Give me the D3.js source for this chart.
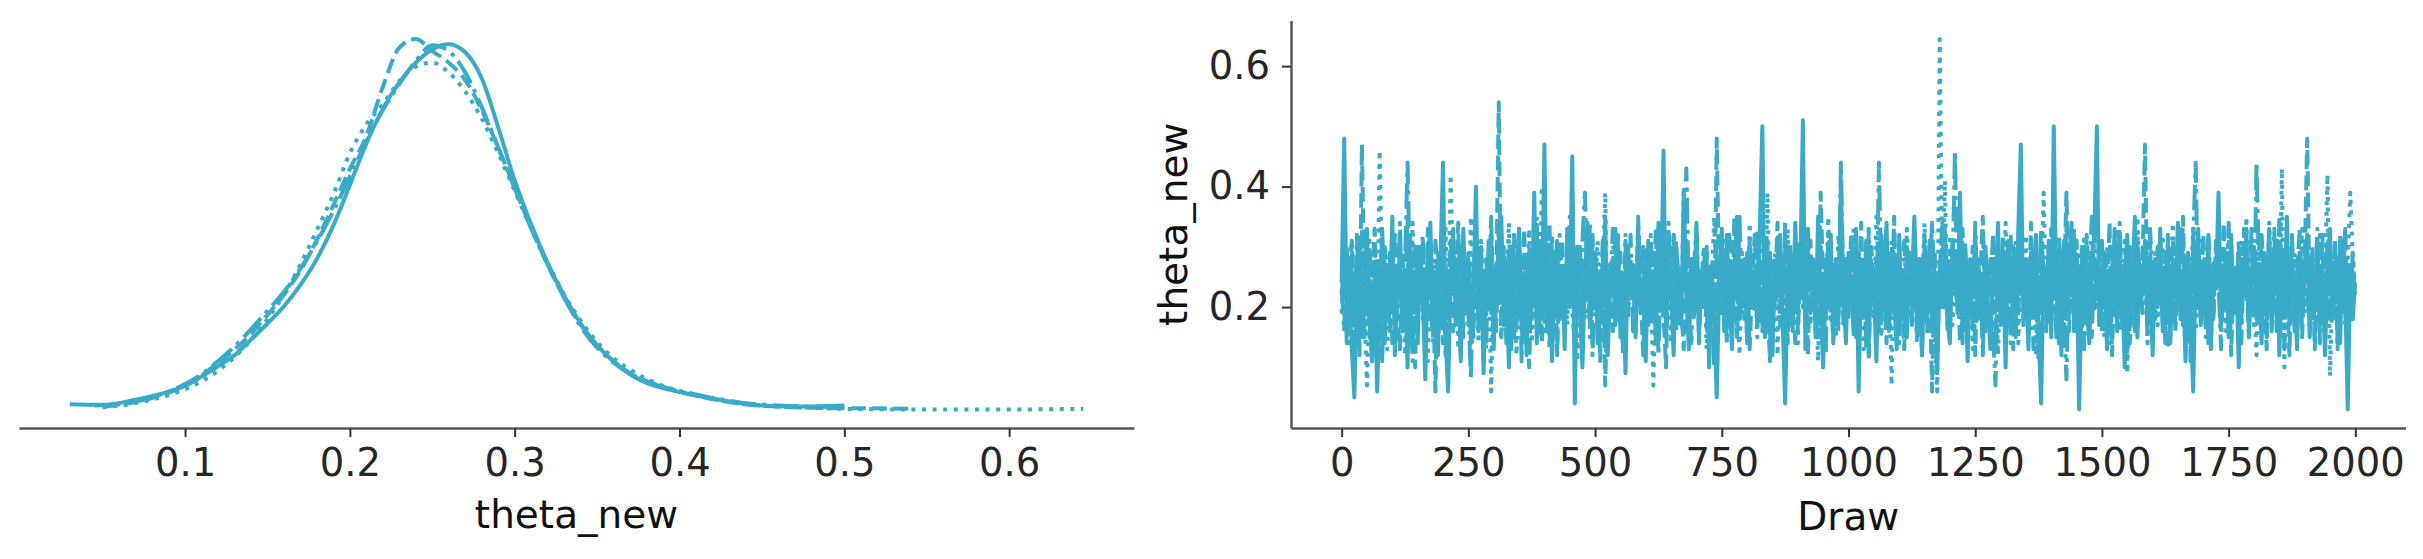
<!DOCTYPE html>
<html>
<head>
<meta charset="utf-8">
<script src="https://cdn.jsdelivr.net/npm/d3@7/dist/d3.min.js"></script>
<style>
  body { margin: 0; background: #fff; }
  svg text { font-family: "DejaVu Sans", sans-serif; }
</style>
</head>
<body>
<div id="trace-plot"></div>
<script>
// ---- data ----
const varName = "theta_new";
const drawLabel = "Draw";
const kdeTicks = [0.1, 0.2, 0.3, 0.4, 0.5, 0.6];
const drawTicks = [0, 250, 500, 750, 1000, 1250, 1500, 1750, 2000];
const valueTicks = [20, 40, 60]; // in hundredths of theta_new, shown as 0.2 / 0.4 / 0.6
const nDraws = 2000;
const drawStep = 5; // trace values below are read every 5 draws

// KDE of each chain: [theta_new, density]
const kdeChain0 = [[0.03,0.10],[0.05,0.09],[0.07,0.18],[0.09,0.32],[0.10,0.42],[0.11,0.58],[0.12,0.76],[0.13,0.95],[0.14,1.22],[0.15,1.50],[0.16,1.80],[0.17,2.17],[0.18,2.62],[0.19,3.20],[0.20,3.90],[0.21,4.62],[0.22,5.22],[0.23,5.68],[0.24,6.02],[0.25,6.25],[0.26,6.34],[0.27,6.20],[0.28,5.75],[0.29,4.90],[0.30,3.98],[0.31,3.22],[0.32,2.55],[0.33,1.98],[0.34,1.50],[0.35,1.12],[0.36,0.84],[0.37,0.62],[0.38,0.47],[0.39,0.38],[0.40,0.31],[0.41,0.25],[0.42,0.20],[0.43,0.15],[0.44,0.11],[0.45,0.08],[0.47,0.06],[0.49,0.07],[0.50,0.08]];
const kdeChain1 = [[0.05,0.06],[0.07,0.14],[0.09,0.30],[0.10,0.42],[0.11,0.60],[0.12,0.82],[0.13,1.05],[0.14,1.32],[0.15,1.65],[0.16,2.00],[0.17,2.42],[0.18,2.95],[0.19,3.55],[0.20,4.18],[0.21,4.75],[0.22,5.60],[0.23,6.28],[0.24,6.43],[0.25,6.22],[0.26,6.02],[0.27,5.72],[0.28,5.20],[0.29,4.55],[0.30,3.85],[0.31,3.15],[0.32,2.52],[0.33,1.95],[0.34,1.48],[0.35,1.12],[0.36,0.85],[0.37,0.64],[0.38,0.50],[0.39,0.40],[0.40,0.32],[0.41,0.25],[0.42,0.19],[0.43,0.14],[0.44,0.10],[0.46,0.06],[0.48,0.04],[0.50,0.03],[0.52,0.03],[0.54,0.02]];
const kdeChain2 = [[0.045,0.08],[0.06,0.10],[0.08,0.22],[0.10,0.45],[0.11,0.62],[0.12,0.85],[0.13,1.10],[0.14,1.40],[0.15,1.72],[0.16,2.05],[0.17,2.45],[0.18,2.92],[0.19,3.45],[0.20,4.05],[0.21,4.65],[0.22,5.20],[0.23,5.65],[0.24,6.05],[0.25,6.32],[0.26,6.22],[0.27,5.85],[0.28,5.25],[0.29,4.55],[0.30,3.85],[0.31,3.15],[0.32,2.52],[0.33,1.95],[0.34,1.45],[0.35,1.08],[0.36,0.82],[0.37,0.63],[0.38,0.50],[0.39,0.40],[0.40,0.33],[0.41,0.27],[0.42,0.21],[0.43,0.16],[0.44,0.12],[0.46,0.08],[0.48,0.06],[0.50,0.05]];
const kdeChain3 = [[0.05,0.05],[0.07,0.12],[0.09,0.26],[0.10,0.36],[0.11,0.50],[0.12,0.68],[0.13,0.92],[0.14,1.22],[0.15,1.58],[0.16,2.00],[0.17,2.52],[0.18,3.12],[0.19,3.74],[0.20,4.45],[0.21,4.95],[0.22,5.30],[0.23,5.70],[0.24,5.95],[0.25,6.02],[0.26,5.85],[0.27,5.52],[0.28,5.05],[0.29,4.45],[0.30,3.80],[0.31,3.15],[0.32,2.55],[0.33,2.00],[0.34,1.55],[0.35,1.18],[0.36,0.90],[0.37,0.70],[0.38,0.54],[0.39,0.42],[0.40,0.33],[0.41,0.26],[0.42,0.20],[0.43,0.14],[0.44,0.10],[0.46,0.06],[0.48,0.04],[0.50,0.02],[0.55,0.01],[0.60,0.01],[0.645,0.02]];

// trace of each chain, in hundredths of theta_new, one value every drawStep draws
const traceChain0 = [
  24,48,18,28,13,5,22,30,15,26,33,17,11,25,6,20,31,14,27,19,
  35,12,24,29,16,23,10,32,19,26,14,30,22,8,27,34,17,25,12,28,
  44,15,6,24,31,18,26,11,33,20,28,14,23,40,16,30,9,25,20,32,
  13,27,22,35,17,24,10,30,15,26,33,18,23,12,29,20,39,14,25,19,
  47,16,28,11,24,31,18,26,13,33,22,45,4,30,20,10,25,34,17,23,
  29,14,26,20,35,12,24,28,17,32,15,25,9,30,22,27,16,33,19,24,
  11,31,18,26,14,34,20,46,16,28,23,12,30,25,17,39,22,13,27,19,
  32,15,25,20,29,10,27,18,5,24,33,16,30,22,13,26,35,18,23,28,
  14,31,20,26,17,33,50,15,24,29,12,27,22,32,18,4,25,30,16,34,
  19,26,51,13,30,23,27,16,35,20,10,28,24,32,15,25,18,40,22,14,
  29,24,17,33,6,26,20,31,14,27,23,11,30,18,25,34,16,28,22,13,
  32,19,26,15,29,24,35,17,23,12,28,20,31,16,25,9,27,22,33,18,
  14,30,24,20,39,16,26,11,28,23,32,18,25,15,30,20,13,27,23,34,
  17,26,10,31,22,28,15,33,47,18,25,13,29,23,32,16,4,27,20,30,
  15,50,22,27,12,31,18,25,34,16,28,3,23,30,20,14,26,32,50,17,
  24,29,13,26,20,33,16,28,23,10,30,18,25,35,15,27,22,31,17,24,
  12,28,20,32,16,25,30,14,27,22,34,18,24,11,29,19,6,26,33,17,
  25,20,31,13,27,23,39,17,24,29,15,32,19,26,10,28,22,33,16,25,
  30,18,24,14,28,22,33,16,26,31,12,25,20,35,17,27,23,13,29,19,
  26,32,15,24,20,30,17,27,12,25,33,18,23,28,14,31,22,3,26,18,
  24
];
const traceChain1 = [
  22,28,14,25,31,17,26,12,47,20,29,15,24,33,18,27,11,30,23,16,
  26,32,19,13,28,23,35,16,25,10,30,20,27,15,33,18,24,6,29,22,
  14,27,20,31,16,24,34,12,26,19,29,23,15,32,18,25,11,28,22,35,
  17,24,54,15,30,23,27,13,32,19,25,16,33,20,10,28,24,18,31,14,
  26,22,34,16,29,12,25,31,18,27,20,39,15,24,30,13,28,23,17,32,
  19,26,11,29,7,23,27,16,33,20,25,14,31,18,28,24,15,35,22,12,
  30,17,25,22,33,15,27,19,10,29,24,32,16,26,20,13,31,23,28,18,
  34,14,26,20,30,17,24,12,48,22,28,16,32,19,25,35,15,27,23,18,
  29,13,24,32,19,26,16,31,22,11,28,23,34,17,25,30,14,27,20,33,
  16,25,22,29,12,31,19,27,15,39,24,18,30,23,14,28,20,33,17,26,
  23,31,15,27,20,34,18,25,11,30,22,28,16,32,24,14,26,19,35,17,
  27,22,13,30,25,18,33,15,28,23,32,16,24,6,29,12,26,34,20,25,
  17,31,23,27,14,33,20,26,18,30,12,28,24,35,16,25,22,32,15,27,
  20,29,16,24,32,13,26,19,31,23,28,15,34,18,25,11,30,22,27,17,
  33,19,25,14,29,23,39,16,27,20,31,13,26,18,32,24,15,28,22,30,
  16,25,20,34,12,28,23,30,17,26,32,14,24,19,29,22,27,47,18,31,
  15,26,22,33,17,29,13,25,31,19,27,23,35,16,24,11,30,20,28,18,
  32,23,14,27,19,31,25,16,34,22,28,12,26,20,30,17,33,24,15,29,
  20,27,17,32,24,13,30,22,26,16,35,19,28,23,12,31,18,25,33,15,
  27,48,19,29,13,25,22,32,16,28,24,18,31,14,26,23,33,17,27,20,
  24
];
const traceChain2 = [
  23,16,30,19,26,13,32,20,27,15,24,31,18,12,28,22,33,17,25,29,
  14,26,20,34,17,27,44,23,11,30,19,25,32,16,28,22,14,31,24,18,
  29,12,26,22,33,17,24,30,15,27,20,8,25,32,18,28,23,13,31,19,
  26,16,34,23,28,14,31,20,25,17,33,11,27,22,30,18,24,35,15,29,
  20,27,13,32,23,18,30,25,16,28,33,19,14,26,22,31,39,24,34,12,
  28,23,18,31,15,26,22,33,17,25,29,13,27,20,32,16,26,24,19,30,
  16,25,32,20,27,12,29,23,15,34,19,26,31,17,24,28,43,22,14,27,
  33,18,24,30,16,26,22,10,31,25,19,28,14,32,23,27,17,35,20,25,
  15,29,24,19,33,17,27,22,31,13,26,20,30,25,16,34,23,18,28,14,
  31,22,26,17,33,19,28,15,25,30,23,12,32,18,27,24,16,44,22,28,
  18,32,24,15,29,20,27,13,33,23,26,17,44,22,30,16,25,31,19,28,
  14,26,31,20,24,17,33,23,28,12,30,18,25,34,22,15,27,20,32,16,
  29,24,46,19,27,14,31,22,26,17,34,20,25,12,30,23,28,16,7,26,
  23,32,18,27,14,30,24,20,35,17,26,22,29,13,28,19,33,25,16,31,
  20,27,15,32,24,18,8,28,22,33,16,25,30,13,26,23,35,19,27,17,
  31,22,26,14,29,24,18,34,20,27,12,30,23,16,32,25,19,28,15,33,
  24,18,30,22,26,14,32,20,28,16,25,33,17,27,23,13,31,44,19,25,
  28,15,32,23,18,30,25,13,27,20,34,17,26,22,31,14,28,24,19,33,
  17,44,25,20,29,15,27,23,33,18,24,30,13,26,22,32,16,28,24,19,
  30,23,16,27,22,33,14,26,20,31,18,25,28,13,32,23,17,27,20,29,
  22
];
const traceChain3 = [
  19,28,24,14,31,22,26,16,33,20,7,27,18,30,15,46,23,28,13,25,
  32,17,26,22,29,12,27,20,34,16,24,30,18,26,11,31,23,28,15,25,
  20,33,16,42,24,28,13,30,22,26,17,35,19,27,14,31,23,18,29,6,
  26,19,32,15,28,23,34,17,25,12,30,22,27,18,33,14,24,29,20,40,
  16,26,31,19,28,13,32,23,25,17,35,20,27,11,30,24,18,33,15,28,
  23,31,17,25,39,14,27,22,30,18,26,12,32,20,28,24,16,34,19,26,
  13,30,23,7,27,20,33,16,25,29,14,32,22,26,18,40,24,15,28,20,
  32,17,25,30,13,27,23,35,18,26,22,31,15,28,19,33,25,12,29,24,
  18,34,22,27,15,31,24,19,39,16,26,29,12,30,23,20,33,17,27,25,
  14,31,20,26,33,17,28,23,11,30,25,18,35,22,27,15,32,24,19,28,
  26,20,33,16,29,24,13,31,22,27,18,35,25,15,30,23,28,7,32,19,
  28,22,16,33,25,19,31,14,27,23,34,18,26,30,15,6,64.5,24,41,20,
  32,17,26,23,35,15,29,20,27,13,31,24,18,33,22,26,16,30,25,12,
  28,23,34,18,26,20,31,14,27,24,32,17,25,30,12,28,22,39,19,26,
  16,31,24,20,29,14,33,22,26,18,30,25,13,32,23,27,17,34,20,28,
  24,15,30,22,27,19,33,16,25,31,9,28,23,18,35,20,26,30,14,27,
  22,29,17,25,32,15,27,23,34,18,26,20,30,13,28,24,33,16,25,31,
  18,26,32,14,28,23,30,20,25,16,33,24,19,27,15,31,23,35,18,27,
  26,12,30,22,28,17,34,20,25,31,15,43,10,32,18,26,29,16,24,33,
  19,27,22,30,14,26,32,18,25,42,8.5,24,31,16,27,23,20,28,39,28,
  24
];

const kdeChains = [kdeChain0, kdeChain1, kdeChain2, kdeChain3];
const traceChains = [traceChain0, traceChain1, traceChain2, traceChain3];

(function () {
    const width = 2423;
    const height = 559;
    const color = '#38abc8';
    const lw = 4;
    const fontSize = 38.5;
    // matplotlib-like line styles, scaled by the line width
    const dashes = ['none', `${3.7 * lw},${1.6 * lw}`, `${6.4 * lw},${1.6 * lw},${lw},${1.6 * lw}`, `${lw},${1.65 * lw}`];

    const left = { x0: 19, x1: 1134, y0: 20.5, y1: 428 };
    const right = { x0: 1291, x1: 2405.5, y0: 20.5, y1: 428 };

    const svg = d3.select('#trace-plot')
        .append('svg')
        .attr('width', width)
        .attr('height', height)
        .attr('viewBox', `0 0 ${width} ${height}`);

    // autoscale with 5% margins, like matplotlib
    const padded = ([a, b]) => [a - 0.05 * (b - a), b + 0.05 * (b - a)];

    // ---------- left: KDE per chain ----------
    const allKde = kdeChains.flat();
    const xKde = d3.scaleLinear()
        .domain(padded(d3.extent(allKde, d => d[0])))
        .range([left.x0, left.x1]);
    const yKde = d3.scaleLinear()
        .domain(padded(d3.extent(allKde, d => d[1])))
        .range([left.y1, left.y0]);

    const kdeLine = d3.line()
        .x(d => xKde(d[0]))
        .y(d => yKde(d[1]))
        .curve(d3.curveMonotoneX);

    const gKde = svg.append('g');
    kdeChains.forEach((c, i) => {
        gKde.append('path')
            .datum(c)
            .attr('d', kdeLine)
            .attr('fill', 'none')
            .attr('stroke', color)
            .attr('stroke-width', lw)
            .attr('stroke-dasharray', dashes[i]);
    });

    const xAxisKde = svg.append('g')
        .attr('transform', `translate(0,${left.y1})`)
        .call(d3.axisBottom(xKde).tickValues(kdeTicks).tickFormat(d3.format('.1f'))
            .tickSizeInner(9).tickSizeOuter(0).tickPadding(12));

    svg.append('text')
        .attr('x', (left.x0 + left.x1) / 2)
        .attr('y', 528)
        .attr('text-anchor', 'middle')
        .attr('font-size', 39)
        .attr('fill', '#111')
        .text(varName);

    // ---------- right: trace per chain ----------
    const xDraw = d3.scaleLinear()
        .domain(padded([0, nDraws - 1]))
        .range([right.x0, right.x1]);
    const allTrace = traceChains.flat();
    const yVal = d3.scaleLinear()
        .domain(padded(d3.extent(allTrace)))
        .range([right.y1, right.y0]);

    const traceLine = d3.line()
        .x((d, i) => xDraw(Math.min(i * drawStep, nDraws - 1)))
        .y(d => yVal(d));

    const gTrace = svg.append('g');
    traceChains.forEach((c, i) => {
        gTrace.append('path')
            .datum(c)
            .attr('d', traceLine)
            .attr('fill', 'none')
            .attr('stroke', color)
            .attr('stroke-width', lw)
            .attr('stroke-linejoin', 'round')
            .attr('stroke-dasharray', dashes[i]);
    });

    const xAxisDraw = svg.append('g')
        .attr('transform', `translate(0,${right.y1})`)
        .call(d3.axisBottom(xDraw).tickValues(drawTicks).tickFormat(d3.format('d'))
            .tickSizeInner(9).tickSizeOuter(0).tickPadding(12));

    const yAxisVal = svg.append('g')
        .attr('transform', `translate(${right.x0},0)`)
        .call(d3.axisLeft(yVal).tickValues(valueTicks).tickFormat(d => (d / 100).toFixed(1))
            .tickSizeInner(9).tickSizeOuter(0).tickPadding(12));

    svg.append('text')
        .attr('x', (right.x0 + right.x1) / 2)
        .attr('y', 530)
        .attr('text-anchor', 'middle')
        .attr('font-size', 39)
        .attr('fill', '#111')
        .text(drawLabel);

    svg.append('text')
        .attr('transform', `translate(1187,${(right.y0 + right.y1) / 2}) rotate(-90)`)
        .attr('text-anchor', 'middle')
        .attr('font-size', 39)
        .attr('fill', '#111')
        .text(varName);

    // axis styling: grey spines, dark ticks
    [xAxisKde, xAxisDraw, yAxisVal].forEach(ax => {
        ax.select('.domain')
            .attr('stroke', '#555')
            .attr('stroke-width', 2.5);
        ax.selectAll('.tick line')
            .attr('stroke', '#333')
            .attr('stroke-width', 2);
        ax.selectAll('.tick text')
            .attr('font-size', fontSize)
            .attr('font-family', '"DejaVu Sans", sans-serif')
            .attr('fill', '#262626');
    });
})();
</script>
</body>
</html>
